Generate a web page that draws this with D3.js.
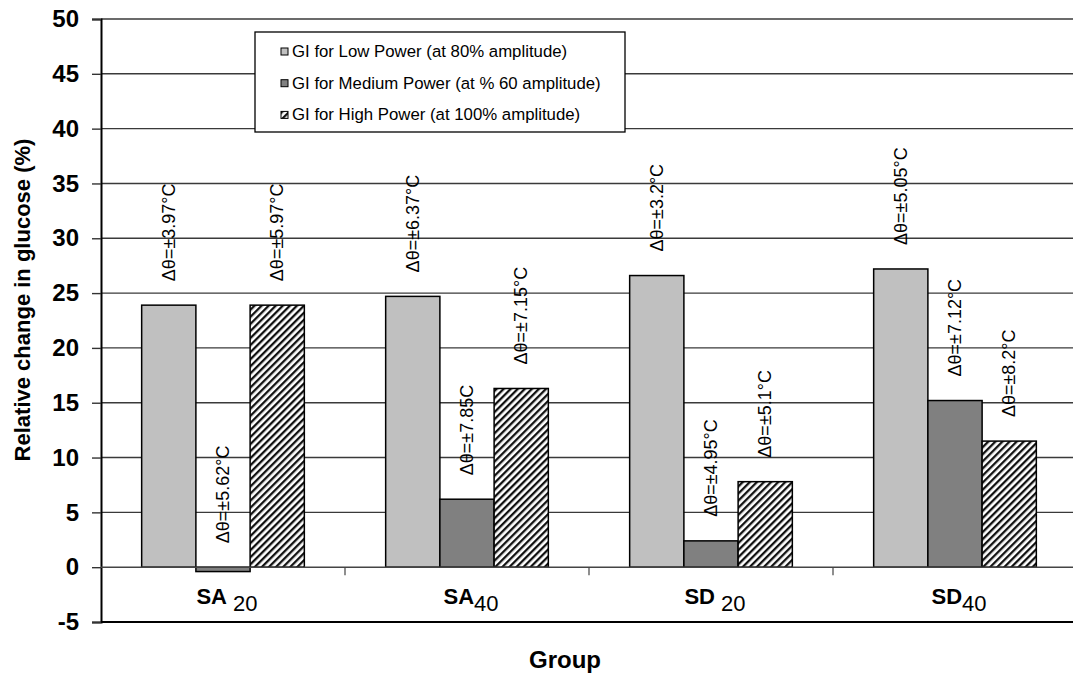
<!DOCTYPE html>
<html>
<head>
<meta charset="utf-8">
<script src="https://cdn.jsdelivr.net/npm/d3@7"></script>
<style>
  body { margin: 0; background: #fff; }
  svg { display: block; font-family: "Liberation Sans", Arial, sans-serif; }
</style>
</head>
<body>
<div id="chart"></div>
<script>
// groups on the x axis (main part + subscript)
const groups = ["SA20", "SA40", "SD20", "SD40"];
const groupMain = ["SA", "SA", "SD", "SD"];
const groupSub = [" 20", "40", " 20", "40"];

const seriesNames = [
  "GI for Low Power (at 80% amplitude)",
  "GI for Medium Power (at % 60 amplitude)",
  "GI for High Power (at 100% amplitude)"
];

// relative change in glucose (%)
const lowPower = [23.9, 24.7, 26.6, 27.2];
const mediumPower = [-0.4, 6.2, 2.4, 15.2];
const highPower = [23.9, 16.3, 7.8, 11.5];

// temperature labels above each bar
const lowLabels = ["Δθ=±3.97°C", "Δθ=±6.37°C", "Δθ=±3.2°C", "Δθ=±5.05°C"];
const mediumLabels = ["Δθ=±5.62°C", "Δθ=±7.85C", "Δθ=±4.95°C", "Δθ=±7.12°C"];
const highLabels = ["Δθ=±5.97°C", "Δθ=±7.15°C", "Δθ=±5.1°C", "Δθ=±8.2°C"];

const yTicks = [-5, 0, 5, 10, 15, 20, 25, 30, 35, 40, 45, 50];

const seriesKeys = ["low", "medium", "high"];
const seriesValues = [lowPower, mediumPower, highPower];
const seriesLabels = [lowLabels, mediumLabels, highLabels];

const rows = [];
groups.forEach((g, i) => {
  seriesKeys.forEach((k, j) => {
    rows.push({ group: g, key: k, value: seriesValues[j][i], label: seriesLabels[j][i] });
  });
});

const width = 1073;
const height = 677;
const margin = { top: 19, right: -4, bottom: 55, left: 101 };

const svg = d3.select("#chart").append("svg")
  .attr("width", width)
  .attr("height", height);

svg.append("rect").attr("width", width).attr("height", height).attr("fill", "#fff");

const defs = svg.append("defs");
const hatch = defs.append("pattern")
  .attr("id", "hatch")
  .attr("patternUnits", "userSpaceOnUse")
  .attr("width", 5)
  .attr("height", 5)
  .attr("patternTransform", "rotate(45)");
hatch.append("rect").attr("width", 5).attr("height", 5).attr("fill", "#fff");
hatch.append("rect").attr("width", 2.3).attr("height", 5).attr("fill", "#111");

const fills = { low: "#c0c0c0", medium: "#808080", high: "url(#hatch)" };

const x0 = d3.scaleBand()
  .domain(groups)
  .range([margin.left, width - margin.right])
  .paddingInner(1 / 3)
  .paddingOuter(1 / 6);

const x1 = d3.scaleBand()
  .domain(seriesKeys)
  .range([0, x0.bandwidth()]);

const y = d3.scaleLinear()
  .domain([-5, 50])
  .range([height - margin.bottom, margin.top]);

// gridlines
svg.append("g")
  .selectAll("line")
  .data(yTicks.filter((t) => t !== -5 && t !== 0))
  .join("line")
  .attr("x1", margin.left)
  .attr("x2", width - margin.right)
  .attr("y1", (d) => y(d))
  .attr("y2", (d) => y(d))
  .attr("stroke", "#3a3a3a")
  .attr("stroke-width", 1.4);

// bottom frame line
svg.append("line")
  .attr("x1", margin.left)
  .attr("x2", width - margin.right)
  .attr("y1", y(-5))
  .attr("y2", y(-5))
  .attr("stroke", "#000")
  .attr("stroke-width", 2);

// y axis
const yAxis = svg.append("g")
  .attr("transform", `translate(${margin.left},0)`)
  .call(d3.axisLeft(y).tickValues(yTicks).tickSize(9).tickPadding(13).tickFormat((d) => String(d)));
yAxis.select(".domain").attr("stroke", "#000").attr("stroke-width", 2);
yAxis.selectAll(".tick line").attr("stroke", "#333").attr("stroke-width", 1.4);
yAxis.selectAll("text")
  .attr("fill", "#000")
  .style("font-size", "24px")
  .style("font-weight", "bold")
  .style("font-family", "Liberation Sans, Arial, sans-serif");

// bars
svg.append("g")
  .selectAll("rect")
  .data(rows)
  .join("rect")
  .attr("x", (d) => x0(d.group) + x1(d.key))
  .attr("y", (d) => y(Math.max(0, d.value)))
  .attr("width", x1.bandwidth())
  .attr("height", (d) => Math.abs(y(d.value) - y(0)))
  .attr("fill", (d) => fills[d.key])
  .attr("stroke", "#000")
  .attr("stroke-width", 1.5);

// category axis at zero
svg.append("line")
  .attr("x1", margin.left)
  .attr("x2", width - margin.right)
  .attr("y1", y(0))
  .attr("y2", y(0))
  .attr("stroke", "#444")
  .attr("stroke-width", 1.4);

const step = x0.step();
svg.append("g")
  .selectAll("line")
  .data(groups.slice(0, -1))
  .join("line")
  .attr("x1", (d) => x0(d) + x0.bandwidth() + (step - x0.bandwidth()) / 2)
  .attr("x2", (d) => x0(d) + x0.bandwidth() + (step - x0.bandwidth()) / 2)
  .attr("y1", y(0))
  .attr("y2", y(0) + 8)
  .attr("stroke", "#444")
  .attr("stroke-width", 1.2);

// bar labels, rotated
svg.append("g")
  .selectAll("text")
  .data(rows)
  .join("text")
  .attr("transform", (d) => {
    const cx = x0(d.group) + x1(d.key) + x1.bandwidth() / 2 + 6;
    const cy = y(Math.max(0, d.value)) - 24;
    return `translate(${cx},${cy}) rotate(-90)`;
  })
  .attr("text-anchor", "start")
  .style("font-size", "18px")
  .attr("fill", "#000")
  .text((d) => d.label);

// category labels
const catLabels = svg.append("g")
  .selectAll("text")
  .data(groups)
  .join("text")
  .attr("x", (d) => x0(d) + x0.bandwidth() / 2 + 4)
  .attr("y", y(0) + 37)
  .attr("text-anchor", "middle")
  .style("font-size", "22px");
catLabels.append("tspan")
  .style("font-weight", "bold")
  .text((d, i) => groupMain[i]);
catLabels.append("tspan")
  .attr("dy", 7)
  .text((d, i) => groupSub[i]);

// axis titles
svg.append("text")
  .attr("x", 565)
  .attr("y", 668)
  .attr("text-anchor", "middle")
  .style("font-size", "24px")
  .style("font-weight", "bold")
  .text("Group");

svg.append("text")
  .attr("transform", "translate(30,300) rotate(-90)")
  .attr("text-anchor", "middle")
  .style("font-size", "22px")
  .style("font-weight", "bold")
  .text("Relative change in glucose (%)");

// legend
const legend = svg.append("g").attr("transform", "translate(255,32)");
legend.append("rect")
  .attr("width", 370)
  .attr("height", 100)
  .attr("fill", "#fff")
  .attr("stroke", "#000")
  .attr("stroke-width", 1.3);

const legendItems = legend.selectAll("g.item")
  .data(seriesKeys)
  .join("g")
  .attr("class", "item")
  .attr("transform", (d, i) => `translate(26,${16 + i * 31.7})`);
legendItems.append("rect")
  .attr("width", 7)
  .attr("height", 7)
  .attr("fill", (d) => fills[d])
  .attr("stroke", "#000")
  .attr("stroke-width", 1);
legendItems.append("text")
  .attr("x", 11)
  .attr("y", 9)
  .style("font-size", "16.8px")
  .attr("fill", "#000")
  .text((d, i) => seriesNames[i]);
</script>
</body>
</html>
